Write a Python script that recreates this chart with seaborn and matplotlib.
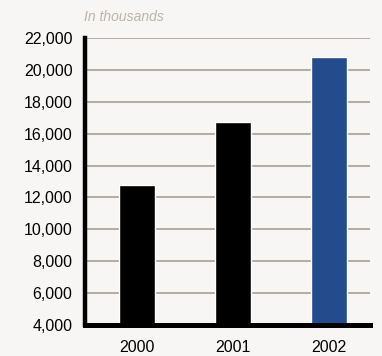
import matplotlib
matplotlib.use("Agg")
import matplotlib.pyplot as plt
import seaborn as sns
import pandas as pd
from matplotlib.ticker import FuncFormatter

years = ["2000", "2001", "2002"]
values = [12800, 16750, 20800]
bar_colors = ["#000000", "#000000", "#244b8c"]
yticks = [4000, 6000, 8000, 10000, 12000, 14000, 16000, 18000, 20000, 22000]
note = "In thousands"

sns.set_theme(style="white")
plt.rcParams['font.family'] = ['Liberation Sans', 'DejaVu Sans']

bg = "#f7f6f4"
fig = plt.figure(figsize=(3.82, 3.56), dpi=100, facecolor=bg)
ax = fig.add_axes([0.2225, 0.0871, 0.9686 - 0.2225, 0.8933 - 0.0871])
ax.set_facecolor(bg)

df = pd.DataFrame({"year": years, "value": values})
sns.barplot(data=df, x="year", y="value", hue="year", palette=bar_colors,
            width=0.375, legend=False, ax=ax, saturation=1)

ax.set_ylim(4000, 22000)
ax.set_yticks(yticks)
ax.yaxis.set_major_formatter(FuncFormatter(lambda v, p: f"{int(v):,}"))
ax.set_xlim(-0.54, 2.43)
ax.grid(axis="y", color="#b5aa9f", linewidth=1.4)
ax.set_axisbelow(True)
for s in ["top", "right"]:
    ax.spines[s].set_visible(False)
ax.spines["left"].set_linewidth(3.2)
ax.spines["bottom"].set_linewidth(3.6)
ax.spines["left"].set_color("black")
ax.spines["bottom"].set_color("black")
ax.tick_params(axis="both", length=0, labelsize=11.5, colors="black")
ax.tick_params(axis="y", pad=9)
ax.tick_params(axis="x", pad=11)
ax.set_xlabel("")
ax.set_ylabel("")
fig.text(84 / 382, 1 - 17 / 356, note, fontsize=10, style="italic",
         color="#bdb3aa", va="center", ha="left")

fig.savefig("out.png", dpi=100, facecolor=bg)
